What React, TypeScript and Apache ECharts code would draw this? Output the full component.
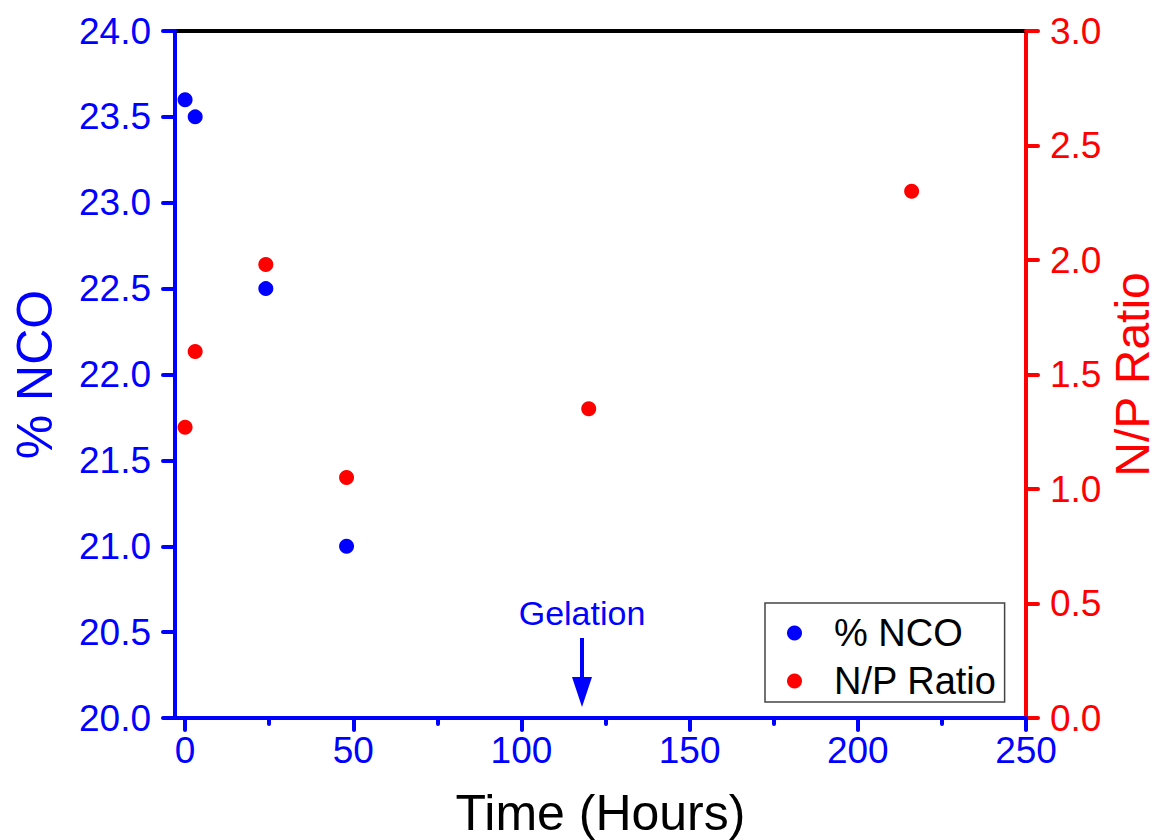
import React, { useEffect, useRef } from "react";
import * as echarts from "echarts";

// ---- data ----
const timeNCO = [0, 3, 24, 48];
const ncoValues = [23.6, 23.5, 22.5, 21.0];
const timeNP = [0, 3, 24, 48, 120, 216];
const npValues = [1.27, 1.6, 1.98, 1.05, 1.35, 2.3];
const xTickValues = [0, 50, 100, 150, 200, 250];
const xMinorTickValues = [25, 75, 125, 175, 225];
const seriesNames = ["% NCO", "N/P Ratio"];
const xTitle = "Time (Hours)";
const leftTitle = "% NCO";
const rightTitle = "N/P Ratio";
const gelationTime = 118;
const gelationLabel = "Gelation";

const FONT = "'Liberation Sans', Arial, Helvetica, sans-serif";
const BLUE = "#0000FF";
const RED = "#FF0000";

export default function App() {
  const ref = useRef<HTMLDivElement>(null);

  useEffect(() => {
    if (!ref.current) return;
    const chart = echarts.init(ref.current, null, { renderer: "svg" });
    const fmt = (v: number) => v.toFixed(1);
    const option: any = {
      animation: false,
      textStyle: { fontFamily: FONT },
      grid: {
        left: 175,
        right: 135,
        top: 31,
        bottom: 122,
        containLabel: false,
        outerBoundsMode: "none",
      },
      xAxis: [
        {
          type: "value",
          position: "bottom",
          min: -3,
          max: 250,
          axisLine: { show: true, onZero: false, lineStyle: { color: BLUE, width: 4 } },
          axisTick: {
            show: true,
            inside: false,
            length: 12,
            customValues: xTickValues,
            lineStyle: { color: BLUE, width: 4, cap: "round" },
          },
          axisLabel: {
            show: true,
            customValues: xTickValues,
            margin: 14,
            color: BLUE,
            fontSize: 37,
            fontFamily: FONT,
          },
          splitLine: { show: false },
          name: xTitle,
          nameLocation: "middle",
          nameGap: 70,
          nameTextStyle: { color: "#000", fontSize: 50, fontFamily: FONT },
        },
        {
          type: "value",
          position: "bottom",
          min: -3,
          max: 250,
          axisLine: { show: false, onZero: false },
          axisTick: {
            show: true,
            length: 6,
            customValues: xMinorTickValues,
            lineStyle: { color: BLUE, width: 4, cap: "round" },
          },
          axisLabel: { show: false },
          splitLine: { show: false },
        },
        {
          type: "value",
          position: "top",
          min: -3,
          max: 250,
          axisLine: { show: true, onZero: false, lineStyle: { color: "#000", width: 4 } },
          axisTick: { show: false },
          axisLabel: { show: false },
          splitLine: { show: false },
        },
      ],
      yAxis: [
        {
          type: "value",
          position: "left",
          min: 20,
          max: 24,
          interval: 0.5,
          axisLine: { show: true, onZero: false, lineStyle: { color: BLUE, width: 4 } },
          axisTick: { show: true, length: 12, lineStyle: { color: BLUE, width: 4, cap: "round" } },
          axisLabel: { color: BLUE, fontSize: 37, fontFamily: FONT, margin: 24, formatter: fmt },
          splitLine: { show: false },
          name: leftTitle,
          nameLocation: "middle",
          nameGap: 115,
          nameTextStyle: { color: BLUE, fontSize: 50, fontFamily: FONT },
        },
        {
          type: "value",
          position: "right",
          min: 0,
          max: 3,
          interval: 0.5,
          axisLine: { show: true, onZero: false, lineStyle: { color: RED, width: 4 } },
          axisTick: { show: true, length: 12, lineStyle: { color: RED, width: 4, cap: "round" } },
          axisLabel: { color: RED, fontSize: 37, fontFamily: FONT, margin: 24, formatter: fmt },
          splitLine: { show: false },
          name: rightTitle,
          nameLocation: "middle",
          nameGap: 82,
          nameMoveOverlap: false,
          nameTextStyle: { color: RED, fontSize: 48, fontFamily: FONT },
        },
      ],
      legend: {
        show: true,
        orient: "vertical",
        left: 765,
        top: 603,
        icon: "circle",
        itemWidth: 15,
        itemHeight: 15,
        itemGap: 10,
        padding: [11, 8, 2, 22],
        borderColor: "#444",
        borderWidth: 1.5,
        backgroundColor: "#fff",
        textStyle: { color: "#000", fontSize: 38, fontFamily: FONT, padding: [0, 0, 0, 27] },
        data: seriesNames,
      },
      series: [
        {
          name: seriesNames[0],
          type: "scatter",
          xAxisIndex: 0,
          yAxisIndex: 0,
          symbol: "circle",
          symbolSize: 15,
          clip: false,
          itemStyle: { color: BLUE, opacity: 1 },
          data: timeNCO.map((t, i) => [t, ncoValues[i]]),
        },
        {
          name: seriesNames[1],
          type: "scatter",
          xAxisIndex: 0,
          yAxisIndex: 1,
          symbol: "circle",
          symbolSize: 15,
          clip: false,
          itemStyle: { color: RED, opacity: 1 },
          data: timeNP.map((t, i) => [t, npValues[i]]),
        },
      ],
    };
    chart.setOption(option);

    const base = chart.convertToPixel({ xAxisIndex: 0, yAxisIndex: 0 }, [gelationTime, 20]) as number[];
    const x = base[0];
    const tipY = base[1] - 11;
    chart.setOption({
      graphic: [
        {
          type: "line",
          shape: { x1: x, y1: tipY - 69, x2: x, y2: tipY - 25 },
          style: { stroke: BLUE, lineWidth: 4 },
        },
        {
          type: "polygon",
          shape: { points: [[x - 10, tipY - 30], [x + 10, tipY - 30], [x, tipY]] },
          style: { fill: BLUE },
        },
        {
          type: "text",
          x: x,
          y: tipY - 94,
          style: {
            text: gelationLabel,
            fill: BLUE,
            fontSize: 34,
            fontFamily: FONT,
            align: "center",
            verticalAlign: "middle",
          },
        },
      ],
    });

    return () => chart.dispose();
  }, []);

  return (
    <div
      ref={ref}
      style={{ position: "fixed", left: 0, top: 0, width: 1161, height: 840, background: "#fff" }}
    />
  );
}
